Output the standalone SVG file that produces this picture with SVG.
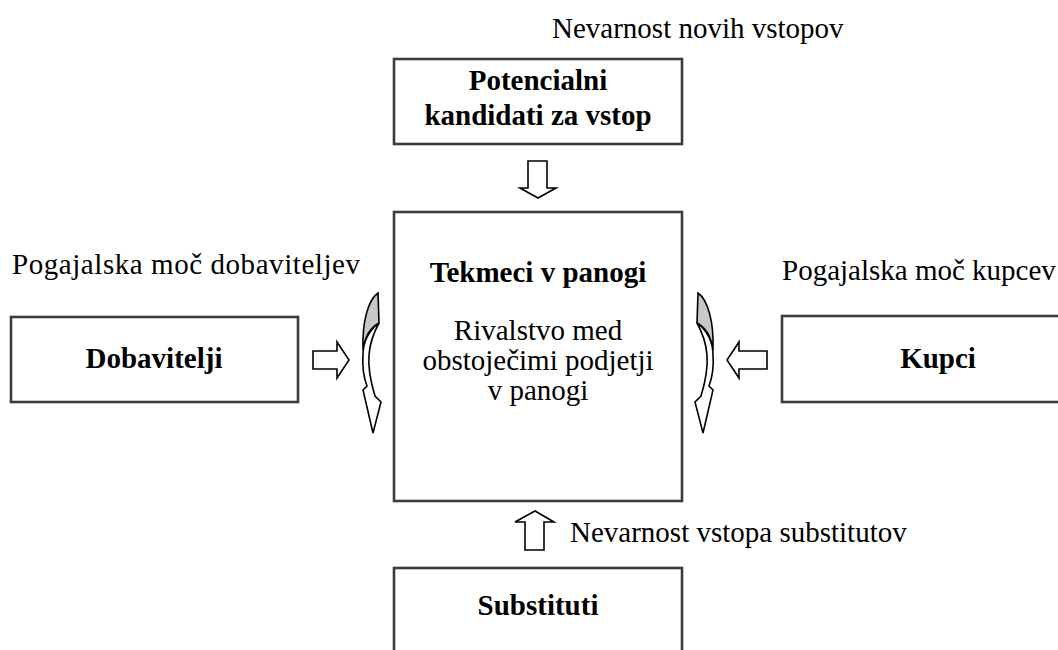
<svg xmlns="http://www.w3.org/2000/svg" width="1058" height="650" viewBox="0 0 1058 650">
<style>
.box{fill:#fff;stroke:#3c3c3c;stroke-width:2.6}
.t{font-family:"Liberation Serif","Times New Roman",serif;font-size:29px;fill:#000}
.b{font-weight:bold;text-anchor:middle}
.c{text-anchor:middle}
.blk{fill:#fff;stroke:#000;stroke-width:1.6;stroke-linejoin:miter}
.back{fill:#c8c8c8;stroke:#000;stroke-width:1.6}
.front{fill:#fff;stroke:#000;stroke-width:1.6}
</style>
<rect width="1058" height="650" fill="#fff"/>
<g id="label-new">
<text class="t" x="552" y="38">Nevarnost novih vstopov</text>
</g>
<g id="node-potencialni">
<rect class="box" x="394" y="59" width="288" height="85"/>
<text class="t b" x="538" y="90">Potencialni</text>
<text class="t b" x="538" y="125">kandidati za vstop</text>
</g>
<g id="node-tekmeci">
<rect class="box" x="394" y="212" width="288" height="289"/>
<text class="t b" x="538" y="282">Tekmeci v panogi</text>
<text class="t c" x="538" y="340">Rivalstvo med</text>
<text class="t c" x="538" y="370">obstoječimi podjetji</text>
<text class="t c" x="538" y="400">v panogi</text>
</g>
<g id="node-dobavitelji">
<text class="t" x="12" y="274" textLength="348" lengthAdjust="spacing">Pogajalska moč dobaviteljev</text>
<rect class="box" x="11" y="317" width="287" height="85"/>
<text class="t b" x="154" y="368">Dobavitelji</text>
</g>
<g id="node-kupci">
<text class="t" x="782" y="280">Pogajalska moč kupcev</text>
<rect class="box" x="782" y="316" width="300" height="86"/>
<text class="t b" x="938" y="368">Kupci</text>
</g>
<g id="node-substituti">
<text class="t" x="570" y="542">Nevarnost vstopa substitutov</text>
<rect class="box" x="394" y="568" width="288" height="100"/>
<text class="t b" x="538" y="615">Substituti</text>
</g>
<g id="connectors">
<path class="blk" d="M528,161 L547,161 L547,188 L556,188 L538,198 L520,188 L528,188 Z"/>
<path class="blk" d="M525,550 L544,550 L544,522 L554,522 L535,511 L515,522 L525,522 Z"/>
<path class="blk" d="M313,351 L337,351 L337,342 L349,360 L337,378 L337,369 L313,369 Z"/>
<path class="blk" d="M767,351 L739,351 L739,342 L727,360 L739,378 L739,369 L767,369 Z"/>
<g id="curve-left">
<path class="back" d="M378,293 C368,300 362,322 363,350 C365,336 371,327 379,323 Z"/>
<path class="front" d="M379,323 C369,330 363,342 363,355 C362,368 364,378 367,386 L363,390 L373,433 L381,402 L375,396 C371,383 368,368 369,355 C370,342 374,332 379,323 Z"/>
</g>
<g id="curve-right" transform="translate(1076,0) scale(-1,1)">
<path class="back" d="M378,293 C368,300 362,322 363,350 C365,336 371,327 379,323 Z"/>
<path class="front" d="M379,323 C369,330 363,342 363,355 C362,368 364,378 367,386 L363,390 L373,433 L381,402 L375,396 C371,383 368,368 369,355 C370,342 374,332 379,323 Z"/>
</g>
</g>
</svg>
